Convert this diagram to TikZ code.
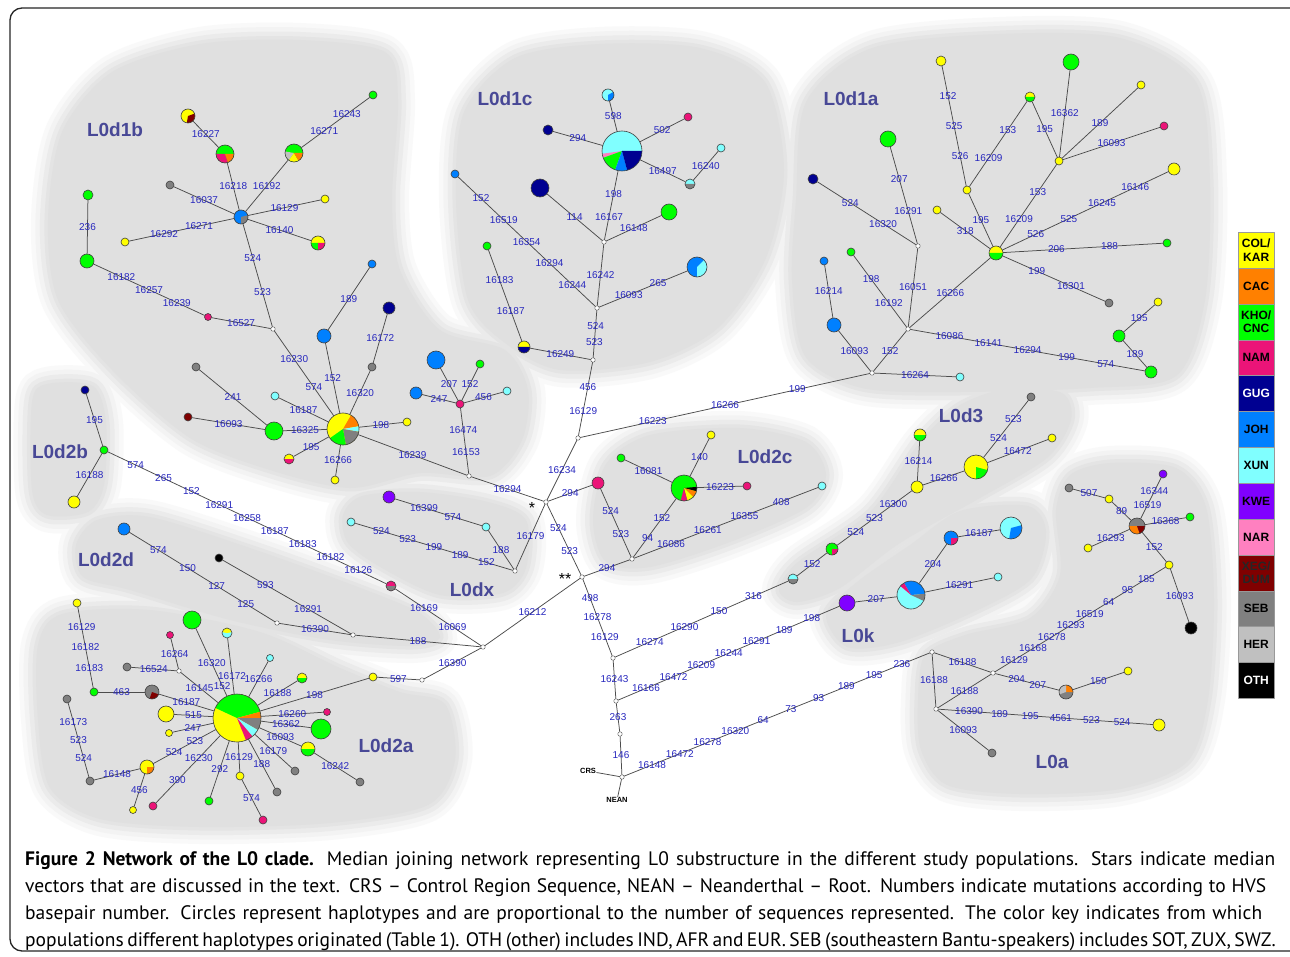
\documentclass[tikz,border=0pt]{standalone}
\usepackage{fontspec}
\setmainfont{Liberation Sans}
\newfontfamily\capfont{PT Sans}

\definecolor{colkar}{RGB}{255,255,0}
\definecolor{cac}{RGB}{255,128,0}
\definecolor{kho}{RGB}{0,255,0}
\definecolor{nam}{RGB}{235,20,120}
\definecolor{gug}{RGB}{0,0,145}
\definecolor{joh}{RGB}{0,128,255}
\definecolor{xun}{RGB}{128,255,255}
\definecolor{kwe}{RGB}{128,0,255}
\definecolor{nar}{RGB}{255,128,192}
\definecolor{xeg}{RGB}{128,0,0}
\definecolor{seb}{RGB}{128,128,128}
\definecolor{her}{RGB}{192,192,192}
\definecolor{oth}{RGB}{0,0,0}
\definecolor{mutblue}{RGB}{40,40,190}
\definecolor{cladeblue}{RGB}{72,72,150}
\definecolor{blobc}{RGB}{224,224,224}

\pgfdeclarelayer{blobs}
\pgfsetlayers{blobs,main}

\tikzset{
  slices/.style={path picture={%
    \foreach \pc/\pa/\pb in {#1}{%
      \fill[\pc] (path picture bounding box.center) -- ++(\pa:30pt)
        arc[start angle=\pa, end angle=\pb, radius=30pt] -- cycle;}}},
}

% all grey background patches, drawn with one style
\newcommand\allblobs[1]{%
  \path[#1] plot[smooth cycle] coordinates {(48,220) (62,132) (112,72) (200,44) (300,40) (385,52) (398,100) (392,200) (400,270) (440,330) (505,350) (528,390) (522,440) (490,476) (420,473) (350,488) (270,470) (190,438) (112,370) (58,300)};
  \path[#1] plot[smooth cycle] coordinates {(468,300) (456,200) (464,112) (515,58) (600,44) (700,48) (765,82) (784,170) (766,258) (718,328) (650,362) (560,370) (505,343)};
  \path[#1] plot[smooth cycle] coordinates {(792,280) (796,200) (806,102) (872,48) (1000,34) (1120,38) (1196,82) (1210,180) (1205,300) (1176,376) (1090,388) (960,392) (862,388) (805,356)};
  \path[#1] plot[smooth cycle] coordinates {(32,402) (47,384) (93,386) (106,422) (104,485) (88,512) (47,515) (32,490)};
  \path[#1] plot[smooth cycle] coordinates {(343,515) (362,496) (420,492) (488,502) (526,520) (526,568) (503,593) (440,595) (382,568) (348,543)};
  \path[#1] plot[smooth cycle] coordinates {(76,545) (97,520) (150,517) (250,548) (350,584) (418,612) (440,637) (413,646) (330,640) (230,620) (130,590) (83,577)};
  \path[#1] plot[smooth cycle] coordinates {(38,645) (62,614) (150,610) (260,632) (340,668) (400,692) (445,704) (455,760) (428,805) (330,823) (200,827) (100,819) (50,788) (38,720)};
  \path[#1] plot[smooth cycle] coordinates {(593,520) (606,464) (650,435) (740,428) (806,442) (826,475) (806,508) (730,542) (650,567) (606,562)};
  \path[#1] plot[smooth cycle] coordinates {(779,590) (798,562) (870,512) (920,442) (960,405) (1010,388) (1062,393) (1071,420) (1047,458) (980,498) (900,543) (840,588) (797,602)};
  \path[#1] plot[smooth cycle] coordinates {(826,614) (857,582) (910,545) (960,511) (1028,506) (1046,532) (1032,578) (980,609) (900,642) (847,647)};
  \path[#1] plot[smooth cycle] coordinates {(918,700) (925,655) (965,635) (1030,618) (1060,575) (1056,510) (1070,475) (1110,463) (1176,468) (1206,507) (1214,600) (1208,700) (1187,762) (1120,789) (1020,794) (947,785) (921,750)};
}

% connector with evenly spread mutation labels (optional shift of positions)
\newcommand\mlink[4][0]{%
  \draw[wire] (#2) -- (#3);
  \gdef\nmut{0}%
  \foreach \m in {#4}{\pgfmathtruncatemacro\tmpn{\nmut+1}\xdef\nmut{\tmpn}}%
  \foreach \m [count=\k] in {#4}{%
    \pgfmathsetmacro\pp{\k/(\nmut+1)+#1}%
    \path (#2) -- (#3) node[mut,pos=\pp] (#2-#3-\k) {\m};}%
}

\begin{document}
\begin{tikzpicture}[x=1pt,y=-1pt,line cap=round,line join=round,
  hap/.style={circle,draw=black!75,line width=0.6pt,inner sep=0pt,minimum size=#1pt},
  med/.style={circle,draw=black!60,fill=white,line width=0.5pt,inner sep=0pt,minimum size=4.5pt},
  wire/.style={draw=black!70,line width=0.75pt},
  mut/.style={text=mutblue,inner sep=0pt,font=\fontsize{10}{11}\selectfont},
  clade/.style={text=cladeblue,font=\fontsize{19}{21}\selectfont\bfseries},
  tag/.style={inner sep=0.5pt,font=\fontsize{7.5}{8}\selectfont\bfseries},
  capline/.style={anchor=base west,inner sep=0pt,font=\capfont\fontsize{19.5}{21}\selectfont},
  keycell/.style={draw=black!40,line width=0.4pt,minimum width=36pt,minimum height=35.85pt,
    inner sep=0pt,align=center,font=\fontsize{12}{13.5}\selectfont\bfseries}]

\clip (0,0) rectangle (1290,957);
\useasboundingbox (0,0) rectangle (1290,957);

\begin{pgfonlayer}{blobs}
  \fill[white] (0,0) rectangle (1290,957);
  \allblobs{draw=blobc!18,line width=34pt}
  \allblobs{draw=blobc!40,line width=25pt}
  \allblobs{draw=blobc!65,line width=16pt}
  \allblobs{draw=blobc!88,line width=7pt}
  \allblobs{fill=blobc}
\end{pgfonlayer}

\draw[black!85,line width=1.3pt,rounded corners=12pt] (10,8) rectangle (1330,951);

% clade names
\node[clade] (lb) at (115,130) {L0d1b};
\node[clade] (lc) at (505,99) {L0d1c};
\node[clade] (la) at (851,99) {L0d1a};
\node[clade] (l2b) at (60,452) {L0d2b};
\node[clade] (l2d) at (106,560) {L0d2d};
\node[clade] (lx) at (472,590) {L0dx};
\node[clade] (l2c) at (765,457) {L0d2c};
\node[clade] (l3) at (961,416) {L0d3};
\node[clade] (lk) at (858,636) {L0k};
\node[clade] (l2a) at (386,746) {L0d2a};
\node[clade] (l0a) at (1052,762) {L0a};

% median vectors
\foreach \n/\x/\y in {bm1/273/329, em/469/476, ms/546/502, ma/578/438, mb/593/360, mc/597/308,
  md/604/242, mss/582/577, mf/632/559, mh/613/658, mi/616/701, mj/620/734, root/622/777,
  mx/515/571, ml/277/623, mm/353/635, mg/483/647, mn/422/680, mo/179/671,
  mk/932/652, mp/936/709, mq/993/673, me/872/373, mr/908/329, mt/918/246}
  \node[med] (\n) at (\x,\y) {};

% L0d1b
\node[hap=14,fill=colkar,slices={xeg/-100/20}] (b1) at (188,116) {};
\node[hap=18,fill=kho,slices={nam/180/290,cac/290/360}] (b2) at (225,154) {};
\node[hap=14,fill=joh,slices={seb/-90/15}] (bh) at (241,217) {};
\node[hap=18,fill=kho,slices={her/170/235,colkar/235/300,cac/300/360}] (b3) at (294,153) {};
\node[hap=8,fill=kho] (b4) at (373,95) {};
\node[hap=8,fill=seb] (b5) at (170,185) {};
\node[hap=8,fill=colkar] (b6) at (325,199) {};
\node[hap=8,fill=colkar] (b7) at (125,242) {};
\node[hap=14,fill=colkar,slices={kho/180/270,nam/270/360}] (b8) at (318,243) {};
\node[hap=10,fill=kho] (b9) at (88,195) {};
\node[hap=14,fill=kho] (b10) at (87,261) {};
\node[hap=7,fill=nam] (b11) at (208,317) {};
\node[hap=32,fill=colkar,slices={cac/10/60,xun/-10/10,seb/-80/-10,kho/-145/-80}] (es) at (343,429) {};
\node[hap=14,fill=joh] (e1) at (324,336) {};
\node[hap=8,fill=joh] (e2) at (372,264) {};
\node[hap=12,fill=gug] (e3) at (389,308) {};
\node[hap=8,fill=seb] (e4) at (372,367) {};
\node[hap=8,fill=seb] (e5) at (196,367) {};
\node[hap=8,fill=xeg] (e6) at (188,417) {};
\node[hap=8,fill=xun] (e7) at (275,396) {};
\node[hap=18,fill=kho] (e8) at (274,431) {};
\node[hap=8,fill=colkar] (e9) at (407,422) {};
\node[hap=10,fill=colkar,slices={nam/180/360}] (e10) at (289,459) {};
\node[hap=8,fill=colkar] (e11) at (335,480) {};
\node[hap=18,fill=joh] (f1) at (436,360) {};
\node[hap=8,fill=kho] (f2) at (480,364) {};
\node[hap=12,fill=joh] (f3) at (416,393) {};
\node[hap=8,fill=nam] (f4) at (460,404) {};
\node[hap=8,fill=xun] (f5) at (507,391) {};

\mlink{b1}{b2}{16227}
\mlink{b2}{bh}{16218}
\mlink{bh}{b3}{16192}
\mlink{b4}{b3}{16243,16271}
\mlink{bh}{b5}{16037}
\mlink{bh}{b6}{16129}
\mlink{bh}{b7}{16271,16292}
\mlink{bh}{b8}{16140}
\mlink{b9}{b10}{236}
\mlink{b10}{b11}{16182,16257,16239}
\mlink{b11}{bm1}{16527}
\mlink{bh}{bm1}{524,523}
\mlink{bm1}{es}{16230,574}
\mlink{e1}{es}{152}
\mlink{e2}{e1}{189}
\mlink{e3}{e4}{16172}
\mlink{e4}{es}{16320}
\mlink{e5}{e8}{241}
\mlink{e6}{e8}{16093}
\mlink{e7}{es}{16187}
\mlink{e8}{es}{16325}
\mlink{es}{e9}{198}
\mlink{es}{e10}{195}
\mlink{es}{e11}{16266}
\mlink{es}{em}{16239}
\mlink{f4}{em}{16474,16153}
\mlink{f1}{f4}{207}
\mlink{f2}{f4}{152}
\mlink{f3}{f4}{247}
\mlink{f4}{f5}{456}
\mlink{em}{ms}{16294}

% L0d2b, L0dx, L0d2d
\node[hap=8,fill=gug] (p1) at (85,390) {};
\node[hap=8,fill=kho] (p2) at (104,450) {};
\node[hap=12,fill=colkar] (p3) at (74,502) {};
\node[hap=10,fill=nam,slices={seb/180/360}] (p4) at (391,586) {};
\node[hap=12,fill=kwe] (x1) at (389,497) {};
\node[hap=8,fill=xun] (x2) at (486,527) {};
\node[hap=8,fill=xun] (x3) at (351,522) {};
\node[hap=12,fill=joh] (q1) at (124,529) {};
\node[hap=8,fill=oth] (q2) at (219,558) {};
\node[hap=8,fill=colkar] (r1) at (373,677) {};

\mlink{p1}{p2}{195}
\mlink{p2}{p3}{16188}
\mlink{p2}{p4}{574,265,152,16291,16258,16187,16183,16182,16126}
\mlink{p4}{mg}{16169,16069}
\mlink{x1}{x2}{16399,574}
\mlink{x2}{mx}{188}
\mlink{x3}{mx}{524,523,199,189,152}
\mlink{ms}{mx}{16179}
\mlink{q1}{ml}{574,150,127,125}
\mlink{q2}{mm}{593,16291}
\mlink{ml}{mm}{16390}
\mlink{mm}{mg}{188}
\mlink{mg}{mn}{16390}
\mlink{mn}{r1}{597}

% L0d2a
\node[hap=48,fill=colkar,slices={kho/15/155,cac/0/15,seb/-30/0,xun/-50/-30,nam/-68/-50}] (as) at (237,718) {};
\node[hap=18,fill=kho] (g1) at (192,620) {};
\node[hap=10,fill=xun,slices={colkar/10/170}] (g2) at (227,633) {};
\node[hap=7,fill=nam] (g3) at (170,635) {};
\node[hap=8,fill=seb] (g4) at (127,667) {};
\node[hap=7,fill=xun] (g5) at (270,658) {};
\node[hap=10,fill=colkar,slices={kho/180/360}] (g6) at (302,678) {};
\node[hap=7,fill=nam] (g7) at (327,712) {};
\node[hap=20,fill=kho] (g8) at (321,729) {};
\node[hap=14,fill=colkar,slices={kho/180/360}] (g9) at (308,749) {};
\node[hap=8,fill=seb] (g10) at (360,782) {};
\node[hap=8,fill=seb] (g11) at (295,771) {};
\node[hap=8,fill=seb] (g12) at (277,792) {};
\node[hap=8,fill=colkar] (g13) at (240,776) {};
\node[hap=8,fill=nam] (g14) at (263,820) {};
\node[hap=8,fill=kho] (g15) at (209,801) {};
\node[hap=8,fill=nam] (g16) at (153,806) {};
\node[hap=14,fill=colkar,slices={cac/-90/0}] (g17) at (147,767) {};
\node[hap=7,fill=colkar] (g18) at (133,810) {};
\node[hap=8,fill=seb] (g19) at (90,781) {};
\node[hap=8,fill=seb] (g20) at (67,699) {};
\node[hap=7,fill=colkar] (g21) at (169,733) {};
\node[hap=16,fill=colkar] (g22) at (166,714) {};
\node[hap=14,fill=seb,slices={xeg/-110/-20}] (g23) at (152,692) {};
\node[hap=8,fill=kho] (g24) at (94,692) {};
\node[hap=8,fill=colkar] (g25) at (77,603) {};

\mlink{r1}{as}{198}
\mlink[0.18]{g1}{as}{16320,152}
\mlink[0.18]{g2}{as}{16172}
\mlink{g3}{mo}{16264}
\mlink{g4}{mo}{16524}
\mlink{mo}{as}{16145}
\mlink{g5}{as}{16266}
\mlink{g6}{as}{16188}
\mlink{g7}{as}{16260}
\mlink{g8}{as}{16362}
\mlink{g9}{as}{16093}
\mlink{g9}{g10}{16242}
\mlink{g11}{as}{16179}
\mlink{g12}{as}{188}
\mlink{g13}{as}{16129}
\mlink{g13}{g14}{574}
\mlink{g15}{as}{292}
\mlink{g16}{as}{390,16230}
\mlink{g17}{as}{524,523}
\mlink{g17}{g18}{456}
\mlink{g17}{g19}{16148}
\mlink{g19}{g20}{524,523,16173}
\mlink{g21}{as}{247}
\mlink{g22}{as}{515}
\mlink{g23}{as}{16187}
\mlink{g24}{g23}{463}
\mlink{g24}{g25}{16183,16182,16129}

% L0d1c and trunk
\node[hap=40,fill=xun,slices={nar/188/200,kho/200/250,joh/250/285,gug/285/360}] (cs) at (622,151) {};
\node[hap=12,fill=colkar,slices={gug/180/360}] (c1) at (524,347) {};
\node[hap=8,fill=kho] (c2) at (487,246) {};
\node[hap=8,fill=joh] (c3) at (455,174) {};
\node[hap=20,fill=joh,slices={xun/-90/45}] (c4) at (697,267) {};
\node[hap=18,fill=gug] (c5) at (540,188) {};
\node[hap=16,fill=kho] (c6) at (669,212) {};
\node[hap=12,fill=xun,slices={joh/-90/30}] (c7) at (608,95) {};
\node[hap=10,fill=gug] (c8) at (548,130) {};
\node[hap=8,fill=nam] (c9) at (688,117) {};
\node[hap=10,fill=xun,slices={seb/180/360}] (c10) at (690,184) {};
\node[hap=8,fill=xun] (c11) at (721,148) {};
\node[hap=12,fill=nam] (pk) at (598,483) {};

\mlink{ms}{ma}{16234}
\mlink{ma}{mb}{16129,456}
\mlink{mb}{mc}{523,524}
\mlink{mc}{md}{16242}
\mlink{md}{cs}{16167,198}
\mlink{mb}{c1}{16249}
\mlink{c1}{c2}{16187,16183}
\mlink{mc}{c3}{16244,16294,16354,16519,152}
\mlink{mc}{c4}{16093,265}
\mlink{md}{c5}{114}
\mlink{md}{c6}{16148}
\mlink{cs}{c7}{598}
\mlink{cs}{c8}{294}
\mlink{cs}{c9}{502}
\mlink{cs}{c10}{16497}
\mlink{c10}{c11}{16240}
\mlink{ms}{pk}{294}
\mlink{pk}{mf}{524,523}
\mlink{ms}{mss}{524,523}
\mlink{mss}{mf}{294}
\mlink{mss}{mg}{16212}
\mlink{mss}{mh}{498,16278,16129}
\mlink{mh}{mi}{16243}
\mlink{mi}{mj}{263}
\mlink{mj}{root}{146}
\mlink{ma}{me}{16223,16266,199}

\node[tag] (crs) at (588,771) {CRS};
\node[tag] (nean) at (617,800) {NEAN};
\draw[wire] (root) -- (crs);
\draw[wire] (root) -- (nean);
\node[inner sep=0pt,font=\fontsize{16}{16}\selectfont] (st1) at (532,508) {*};
\node[inner sep=0pt,font=\fontsize{16}{16}\selectfont] (st2) at (565,579) {**};

% L0d2c
\node[hap=26,fill=kho,slices={oth/-15/5,cac/-45/-15,colkar/-75/-45,nam/-105/-75}] (hs) at (684,488) {};
\node[hap=8,fill=colkar] (h1) at (711,435) {};
\node[hap=8,fill=kho] (h2) at (621,458) {};
\node[hap=8,fill=nam] (h3) at (747,486) {};
\node[hap=8,fill=xun] (h4) at (822,486) {};
\mlink{h1}{hs}{140}
\mlink{h2}{hs}{16081}
\mlink{hs}{h3}{16223}
\mlink{mf}{hs}{94,152}
\mlink{mf}{h4}{16086,16261,16355,408}

% L0d3 and L0k
\node[hap=10,fill=xun,slices={seb/180/360}] (cg) at (793,579) {};
\node[hap=12,fill=kho,slices={nam/-90/0}] (t1) at (832,549) {};
\node[hap=12,fill=colkar] (t2) at (917,487) {};
\node[hap=12,fill=colkar,slices={kho/180/360}] (t3) at (920,435) {};
\node[hap=24,fill=colkar,slices={kho/-90/-15}] (t4) at (976,467) {};
\node[hap=8,fill=seb] (t5) at (1031,397) {};
\node[hap=8,fill=colkar] (t6) at (1052,438) {};
\node[hap=28,fill=xun,slices={joh/5/120,nam/120/140,seb/-25/5}] (ks) at (911,595) {};
\node[hap=8,fill=xun] (k1) at (998,577) {};
\node[hap=14,fill=joh,slices={nam/-90/0}] (k2) at (951,538) {};
\node[hap=22,fill=xun,slices={joh/-100/15}] (k3) at (1011,528) {};
\node[hap=16,fill=kwe] (k4) at (847,603) {};

\mlink{mh}{cg}{16274,16290,150,316}
\mlink{cg}{t1}{152}
\mlink{t1}{t2}{524,523,16300}
\mlink{t2}{t3}{16214}
\mlink{t2}{t4}{16266}
\mlink{t4}{t5}{524,523}
\mlink{t4}{t6}{16472}
\mlink{mi}{k4}{16166,16472,16209,16244,16291,189,198}
\mlink{k4}{ks}{207}
\mlink{ks}{k1}{16291}
\mlink{ks}{k2}{204}
\mlink{k2}{k3}{16187}

% L0a
\node[hap=14,fill=seb,slices={cac/0/90,her/90/200}] (n1) at (1066,692) {};
\node[hap=8,fill=colkar] (n2) at (1128,671) {};
\node[hap=8,fill=colkar] (n3) at (1169,565) {};
\node[hap=12,fill=oth] (n4) at (1191,628) {};
\node[hap=16,fill=seb,slices={cac/180/290,xeg/290/360}] (n5) at (1137,526) {};
\node[hap=8,fill=kho] (n6) at (1190,517) {};
\node[hap=8,fill=kwe] (n7) at (1163,474) {};
\node[hap=8,fill=colkar] (n8) at (1109,499) {};
\node[hap=8,fill=seb] (n9) at (1069,488) {};
\node[hap=8,fill=colkar] (n10) at (1088,548) {};
\node[hap=12,fill=colkar] (n11) at (1159,725) {};
\node[hap=8,fill=seb] (n12) at (992,753) {};

\mlink{root}{mk}{16148,16472,16278,16320,64,73,93,189,195,236}
\mlink{mk}{mp}{16188}
\mlink{mk}{mq}{16188}
\mlink{mp}{mq}{16188}
\mlink{mq}{n1}{204,207}
\mlink{n1}{n2}{150}
\mlink{mq}{n3}{16129,16168,16278,16293,16519,64,95,185}
\mlink{n3}{n4}{16093}
\mlink{n3}{n5}{152}
\mlink{n5}{n6}{16368}
\mlink{n5}{n7}{16519,16344}
\mlink{n5}{n8}{89}
\mlink{n8}{n9}{507}
\mlink{n5}{n10}{16293}
\mlink{mp}{n11}{16390,189,195,4561,523,524}
\mlink{mp}{n12}{16093}

% L0d1a
\node[hap=14,fill=joh] (u1) at (834,325) {};
\node[hap=8,fill=joh] (u2) at (824,261) {};
\node[hap=8,fill=xun] (u3) at (960,377) {};
\node[hap=12,fill=kho] (u4) at (1151,372) {};
\node[hap=12,fill=kho] (u5) at (1119,336) {};
\node[hap=8,fill=colkar] (u6) at (1158,302) {};
\node[hap=8,fill=kho] (u7) at (851,252) {};
\node[hap=10,fill=gug] (u8) at (813,179) {};
\node[hap=16,fill=kho] (u9) at (888,139) {};
\node[hap=14,fill=colkar,slices={kho/180/360}] (uh) at (996,253) {};
\node[hap=8,fill=colkar] (u10) at (937,210) {};
\node[hap=8,fill=colkar] (u11) at (967,190) {};
\node[hap=10,fill=colkar] (u12) at (941,61) {};
\node[hap=10,fill=colkar,slices={kho/180/360}] (u13) at (1030,97) {};
\node[hap=8,fill=colkar] (u14) at (1059,161) {};
\node[hap=16,fill=kho] (u15) at (1071,62) {};
\node[hap=8,fill=colkar] (u16) at (1141,85) {};
\node[hap=8,fill=nam] (u17) at (1164,126) {};
\node[hap=12,fill=colkar] (u18) at (1174,169) {};
\node[hap=8,fill=kho] (u19) at (1167,243) {};
\node[hap=8,fill=seb] (u20) at (1109,303) {};

\mlink{me}{mr}{152}
\mlink{me}{u1}{16093}
\mlink{u1}{u2}{16214}
\mlink{me}{u3}{16264}
\mlink{mr}{u4}{16086,16141,16294,199,574}
\mlink{u4}{u5}{189}
\mlink{u5}{u6}{195}
\mlink{mr}{u7}{16192,198}
\mlink{mr}{mt}{16051}
\mlink{mt}{u8}{16320,524}
\mlink{mt}{u9}{16291,207}
\mlink{mr}{uh}{16266}
\mlink{uh}{u10}{318}
\mlink{uh}{u11}{195}
\mlink{u11}{u12}{526,525,152}
\mlink{u11}{u13}{16209,153}
\mlink{uh}{u14}{16209,153}
\mlink{u13}{u14}{195}
\mlink{u14}{u15}{16362}
\mlink{u14}{u16}{189}
\mlink{u14}{u17}{16093}
\mlink{uh}{u18}{526,525,16245,16146}
\mlink{uh}{u19}{206,188}
\mlink{uh}{u20}{199,16301}

% colour key
\foreach \lc/\lt/\tc [count=\i] in {colkar/{COL/\\KAR}/black, cac/CAC/black, kho/{KHO/\\CNC}/black,
  nam/NAM/black, gug/GUG/white, joh/JOH/black, xun/XUN/black, kwe/KWE/black, nar/NAR/black,
  xeg/{XEG/\\DUM}/black!85, seb/SEB/black, her/HER/black, oth/OTH/white}
  \node[keycell,fill=\lc,text=\tc,anchor=north west] (key\i) at (1238,{232+(\i-1)*35.85}) {\lt};

% caption
\node[capline] (cap1) at (25,865)
  {\makebox[1250pt][s]{\textbf{Figure 2 Network of the L0 clade.} Median joining network representing L0 substructure in the different study populations. Stars indicate median}};
\node[capline] (cap2) at (25,892)
  {\makebox[1241pt][s]{vectors that are discussed in the text. CRS – Control Region Sequence, NEAN – Neanderthal – Root. Numbers indicate mutations according to HVS}};
\node[capline] (cap3) at (25,919)
  {\makebox[1237pt][s]{basepair number. Circles represent haplotypes and are proportional to the number of sequences represented. The color key indicates from which}};
\node[capline] (cap4) at (25,946)
  {\makebox[1247pt][s]{populations different haplotypes originated (Table 1). OTH (other) includes IND, AFR and EUR. SEB (southeastern Bantu-speakers) includes SOT, ZUX, SWZ.}};
\end{tikzpicture}
\end{document}
